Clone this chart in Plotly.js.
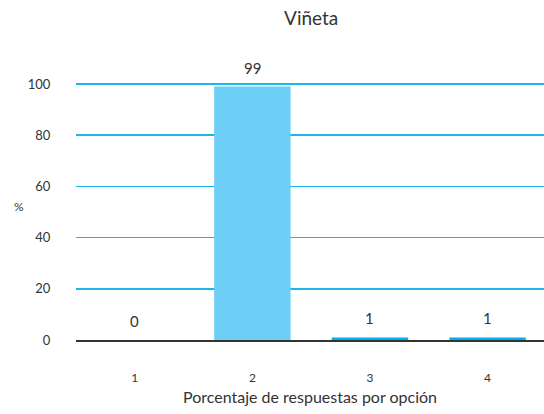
<!DOCTYPE html>
<html>
<head>
<meta charset="utf-8">
<script src="https://cdn.plot.ly/plotly-3.0.1.min.js"></script>
<style>html,body{margin:0;padding:0;background:#fff;}#chart{width:544px;height:414px;}</style>
</head>
<body>
<div id="chart"></div>
<script>
const categories = ['1', '2', '3', '4'];
const percentages = [0, 99, 1, 1];
const yTicks = [0, 20, 40, 60, 80, 100];

const barColors = ['#6DCFF6', '#6DCFF6', '#00AEEF', '#00AEEF'];
const FONT = 'Lato, "DejaVu Sans", sans-serif';

const trace = {
  type: 'bar',
  x: categories,
  y: percentages,
  marker: {color: barColors, line: {width: 0}},
  hoverinfo: 'none'
};

const annotations = categories.map((c, i) => ({
  x: i, y: percentages[i], xref: 'x', yref: 'y',
  text: String(percentages[i]), showarrow: false,
  yanchor: 'middle', yshift: 19,
  font: {family: FONT, size: 15, color: '#333'}
}));
annotations.push({
  xref: 'paper', yref: 'paper', x: -0.122, y: 0.52,
  xanchor: 'center', yanchor: 'middle', text: '%', showarrow: false,
  font: {family: FONT, size: 12, color: '#333'}
});

const layout = {
  width: 544, height: 414,
  margin: {l: 76, r: 0, t: 83, b: 74},
  paper_bgcolor: '#fff', plot_bgcolor: '#fff',
  title: {text: 'Viñeta', x: 0.572, xanchor: 'center', y: 0.955, yanchor: 'middle',
          font: {family: FONT, size: 19, color: '#333'}},
  bargap: 0.35,
  showlegend: false,
  xaxis: {
    type: 'category',
    range: [-0.5, 3.48],
    showgrid: false, zeroline: false,
    showline: true, linecolor: '#333', linewidth: 1.5,
    ticks: 'outside', ticklen: 26, tickcolor: 'rgba(0,0,0,0)',
    tickfont: {family: FONT, size: 12, color: '#333'},
    title: {text: 'Porcentaje de respuestas por opción', standoff: 8,
            font: {family: FONT, size: 16, color: '#333'}}
  },
  yaxis: {
    range: [0, 100.4],
    tickvals: yTicks,
    showgrid: true, gridcolor: '#1EB4EC', gridwidth: 1.5,
    zeroline: false, showline: false,
    ticks: 'outside', ticklen: 22, tickcolor: 'rgba(0,0,0,0)',
    tickfont: {family: FONT, size: 13, color: '#333'}
  },
  annotations: annotations
};

Plotly.newPlot('chart', [trace], layout, {displayModeBar: false, staticPlot: true});
</script>
</body>
</html>
